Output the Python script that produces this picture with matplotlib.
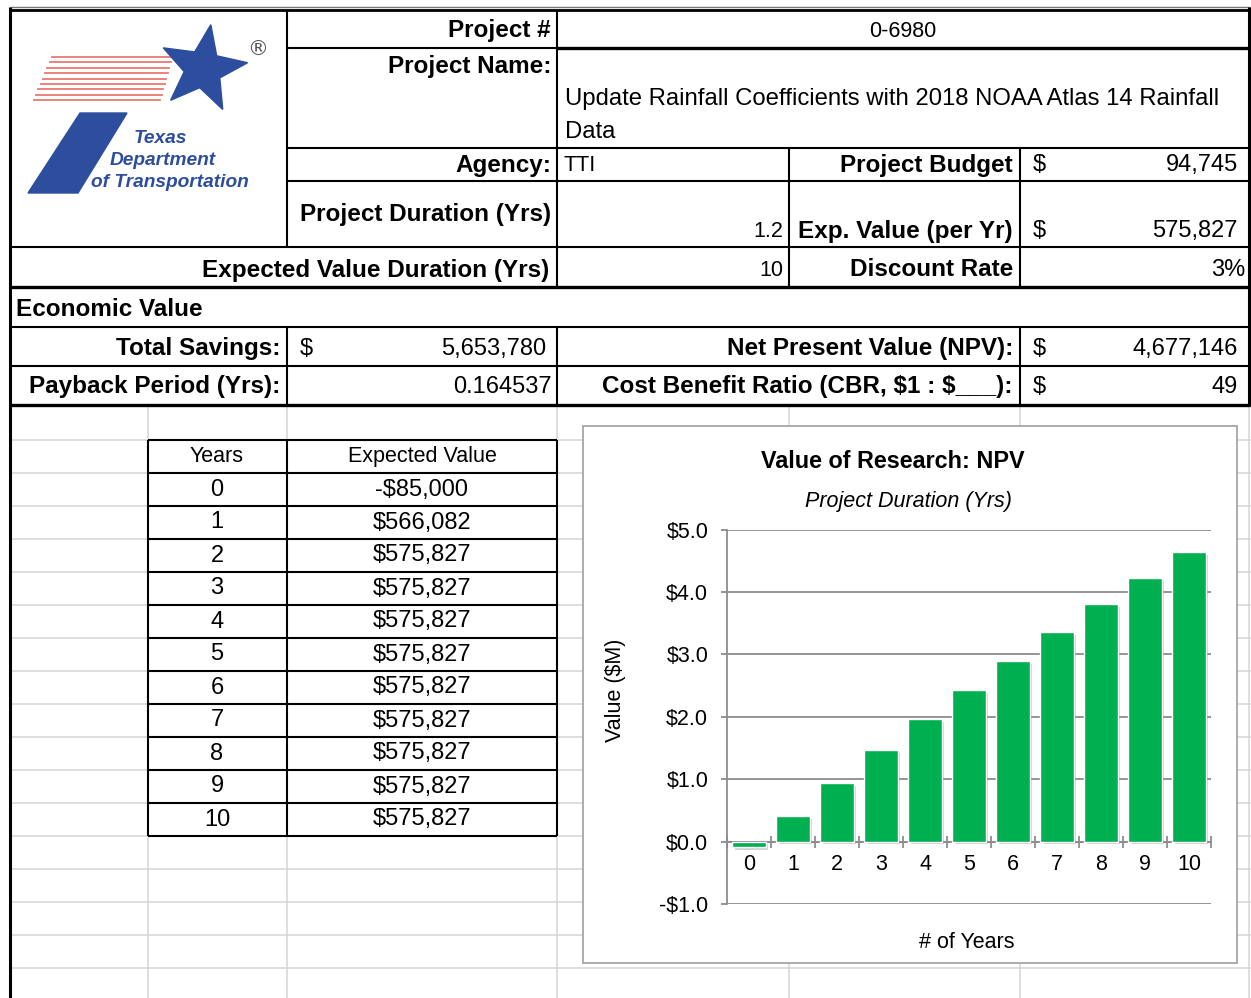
import numpy as np
import matplotlib.pyplot as plt
import matplotlib.patheffects as pe
from matplotlib.patches import Polygon, Rectangle
from matplotlib.ticker import FuncFormatter

# ---- данные ----
years = list(range(11))
expected_value = [-85000, 566082, 575827, 575827, 575827, 575827,
                  575827, 575827, 575827, 575827, 575827]
npv_musd = [-0.085, 0.41, 0.94, 1.47, 1.96, 2.43, 2.89, 3.36, 3.80, 4.23, 4.64]

project_no = "0-6980"
project_name = ["Update Rainfall Coefficients with 2018 NOAA Atlas 14 Rainfall", "Data"]
agency = "TTI"
project_budget = "94,745"
project_duration = "1.2"
exp_value_per_yr = "575,827"
ev_duration = "10"
discount_rate = "3%"
total_savings = "5,653,780"
payback = "0.164537"
npv_total = "4,677,146"
cbr = "49"

W, H = 1251, 998
BOLD = dict(family="Liberation Sans", fontweight="bold", fontsize=17.5, parse_math=False)
REG = dict(family="Liberation Sans", fontsize=15.5, parse_math=False)
NUM = dict(family="Liberation Sans", fontsize=17, parse_math=False)
GREY = "#D4D4D4"

fig = plt.figure(figsize=(W / 100, H / 100), dpi=100)
bg = fig.add_axes([0, 0, 1, 1])
bg.set_xlim(0, W)
bg.set_ylim(H, 0)
bg.axis("off")


def hline(y, x0, x1, lw=1.5, color="black", z=2):
    bg.plot([x0, x1], [y, y], color=color, lw=lw, zorder=z, solid_capstyle="butt")


def vline(x, y0, y1, lw=1.5, color="black", z=2):
    bg.plot([x, x], [y0, y1], color=color, lw=lw, zorder=z, solid_capstyle="butt")


# светлая сетка листа под шапкой
for y in range(440, 990, 33):
    hline(y, 10, W, lw=1.1, color=GREY, z=1)
for x in [148, 287, 557, 789, 1020, 1249]:
    vline(x, 404, H, lw=1.1, color=GREY, z=1)

# рамки шапки
hline(7, 10, 1250, lw=1.0, color="#777777")
hline(10, 10, 1250, lw=2.0)
hline(48, 287, 557, lw=1.5)
hline(48, 557, 1250, lw=2.4)
for y in [148, 181]:
    hline(y, 287, 1250)
hline(247, 10, 1250)
hline(287, 10, 1250, lw=2.4)
for y in [327, 366]:
    hline(y, 10, 1250)
hline(405, 10, 1250, lw=2.4)
vline(10, 7, H, lw=2.2)
vline(1249, 7, 406, lw=2.2)
vline(287, 10, 247)
vline(557, 10, 287)
vline(789, 148, 287)
vline(1020, 148, 287)
for x in [287, 557, 1020]:
    vline(x, 327, 405)

# логотип TxDOT
blue = "#2D4E9E"
for i in range(9):
    y = 57 + i * 5.4
    bg.plot([52 - i * 2.3, 172 - i * 1.5], [y, y], color="#E87A72", lw=1.3, zorder=3)
ang = np.deg2rad(np.arange(5) * 72 + 80)
ang_in = ang + np.deg2rad(36)
pts = []
for a, b in zip(ang, ang_in):
    pts.append((203 + 45 * np.cos(a), 69 - 45 * np.sin(a)))
    pts.append((203 + 19 * np.cos(b), 69 - 19 * np.sin(b)))
bg.add_patch(Polygon(pts, closed=True, color=blue, zorder=4))
bg.add_patch(Polygon([(80, 113), (127, 113), (78, 193), (28, 193)], closed=True, color=blue, zorder=4))
logo_font = dict(family="Liberation Sans", fontweight="bold", style="italic", fontsize=13.8, color=blue, ha="center", va="center")
bg.text(160, 138, "Texas", **logo_font)
bg.text(163, 160, "Department", **logo_font)
bg.text(170, 182, "of Transportation", **logo_font)
bg.text(258, 49, "®", family="DejaVu Sans", fontsize=15, color="#555555", ha="center", va="center")

# подписи шапки
bg.text(551, 30, "Project #", ha="right", va="center", **BOLD)
bg.text(903, 31, project_no, ha="center", va="center", **REG)
bg.text(551, 66, "Project Name:", ha="right", va="center", **BOLD)
bg.text(565, 99, project_name[0], ha="left", va="center", family="Liberation Sans", fontsize=17.2)
bg.text(565, 132, project_name[1], ha="left", va="center", family="Liberation Sans", fontsize=17.2)
bg.text(551, 165, "Agency:", ha="right", va="center", **BOLD)
bg.text(563, 165, agency, ha="left", va="center", **REG)
bg.text(1013, 165, "Project Budget", ha="right", va="center", **BOLD)
bg.text(1033, 165, "$", ha="left", va="center", **NUM)
bg.text(1238, 165, project_budget, ha="right", va="center", **NUM)
bg.text(551, 214, "Project Duration (Yrs)", ha="right", va="center", **BOLD)
bg.text(783, 231, project_duration, ha="right", va="center", **REG)
bg.text(1013, 231, "Exp. Value (per Yr)", ha="right", va="center", **BOLD)
bg.text(1033, 231, "$", ha="left", va="center", **NUM)
bg.text(1238, 231, exp_value_per_yr, ha="right", va="center", **NUM)
bg.text(549, 270, "Expected Value Duration (Yrs)", ha="right", va="center", **BOLD)
bg.text(783, 270, ev_duration, ha="right", va="center", **REG)
bg.text(1013, 270, "Discount Rate", ha="right", va="center", **BOLD)
bg.text(1245, 270, discount_rate, ha="right", va="center", **NUM)
bg.text(16, 310, "Economic Value", ha="left", va="center", **BOLD)
bg.text(280, 349, "Total Savings:", ha="right", va="center", **BOLD)
bg.text(300, 349, "$", ha="left", va="center", **NUM)
bg.text(546, 349, total_savings, ha="right", va="center", **NUM)
bg.text(1013, 349, "Net Present Value (NPV):", ha="right", va="center", **BOLD)
bg.text(1033, 349, "$", ha="left", va="center", **NUM)
bg.text(1238, 349, npv_total, ha="right", va="center", **NUM)
bg.text(280, 387, "Payback Period (Yrs):", ha="right", va="center", **BOLD)
bg.text(552, 387, payback, ha="right", va="center", **NUM)
bg.text(1013, 387, "Cost Benefit Ratio (CBR, $1 : $___):", ha="right", va="center", **BOLD)
bg.text(1033, 387, "$", ha="left", va="center", **NUM)
bg.text(1238, 387, cbr, ha="right", va="center", **NUM)

# таблица Years / Expected Value
row_h = 33
top = 440
for k in range(len(years) + 2):
    hline(top + k * row_h, 148, 557, lw=1.5, z=3)
for x in [148, 287, 557]:
    vline(x, top, top + (len(years) + 1) * row_h, lw=1.5, z=3)
bg.text(217, top + row_h / 2, "Years", ha="center", va="center", **REG)
bg.text(422, top + row_h / 2, "Expected Value", ha="center", va="center", **REG)
for i, (yr, v) in enumerate(zip(years, expected_value)):
    yc = top + (i + 1.5) * row_h
    s = f"-${abs(v):,}" if v < 0 else f"${v:,}"
    bg.text(217, yc, str(yr), ha="center", va="center", **NUM)
    bg.text(422, yc, s, ha="center", va="center", **NUM)

# рамка диаграммы
bg.add_patch(Rectangle((583, 426), 654, 537, facecolor="white", edgecolor="#A6A6A6", lw=1.3, zorder=5))
bg.text(893, 461, "Value of Research: NPV", ha="center", va="center", zorder=6,
        family="Liberation Sans", fontweight="bold", fontsize=16.8)
bg.text(908, 502, "Project Duration (Yrs)", ha="center", va="center", zorder=6,
        family="Liberation Sans", style="italic", fontsize=15.5)
bg.text(967, 942, "# of Years", ha="center", va="center", zorder=6, **REG)

# сама диаграмма
ax = fig.add_axes([727 / W, (H - 904) / H, 484 / W, (904 - 529.5) / H])
ax.set_facecolor("none")
ax.bar(years, npv_musd, width=0.76, color="#00B050", edgecolor="white", linewidth=1, zorder=3,
       path_effects=[pe.SimplePatchShadow(offset=(2, -2), shadow_rgbFace="#7F7F7F", alpha=0.35), pe.Normal()])
ax.set_xlim(-0.5, 10.5)
ax.set_ylim(-1, 5)
ax.set_yticks(range(-1, 6))
ax.yaxis.set_major_formatter(FuncFormatter(lambda v, p: f"-\\${abs(v):.1f}" if v < 0 else f"\\${v:.1f}"))
ax.grid(axis="y", color="#8C8C8C", lw=1.3)
ax.set_axisbelow(True)
for s in ["top", "right"]:
    ax.spines[s].set_visible(False)
ax.spines["left"].set_color("#8C8C8C")
ax.spines["left"].set_linewidth(1.3)
ax.spines["bottom"].set_position(("data", 0))
ax.spines["bottom"].set_color("#8C8C8C")
ax.spines["bottom"].set_linewidth(1.3)
ax.set_xticks(np.arange(-0.5, 11, 1))
ax.set_xticklabels([])
ax.set_xticks(years, minor=True)
ax.set_xticklabels([str(y) for y in years], minor=True)
ax.tick_params(axis="x", which="major", direction="inout", length=8, color="#8C8C8C", width=1.3)
ax.tick_params(axis="x", which="minor", length=0, pad=9, labelsize=15.5)
ax.tick_params(axis="y", length=4, color="#8C8C8C", width=1.3, pad=9.5, labelsize=15.5)
for lab in ax.get_xticklabels(minor=True) + ax.get_yticklabels():
    lab.set_family("Liberation Sans")
ax.set_ylabel("Value (\\$M)", family="Liberation Sans", fontsize=15.5)
ax.yaxis.set_label_coords((626 - 727) / 484, (904 - 690) / 374.5)

fig.savefig("out.png", dpi=100)
